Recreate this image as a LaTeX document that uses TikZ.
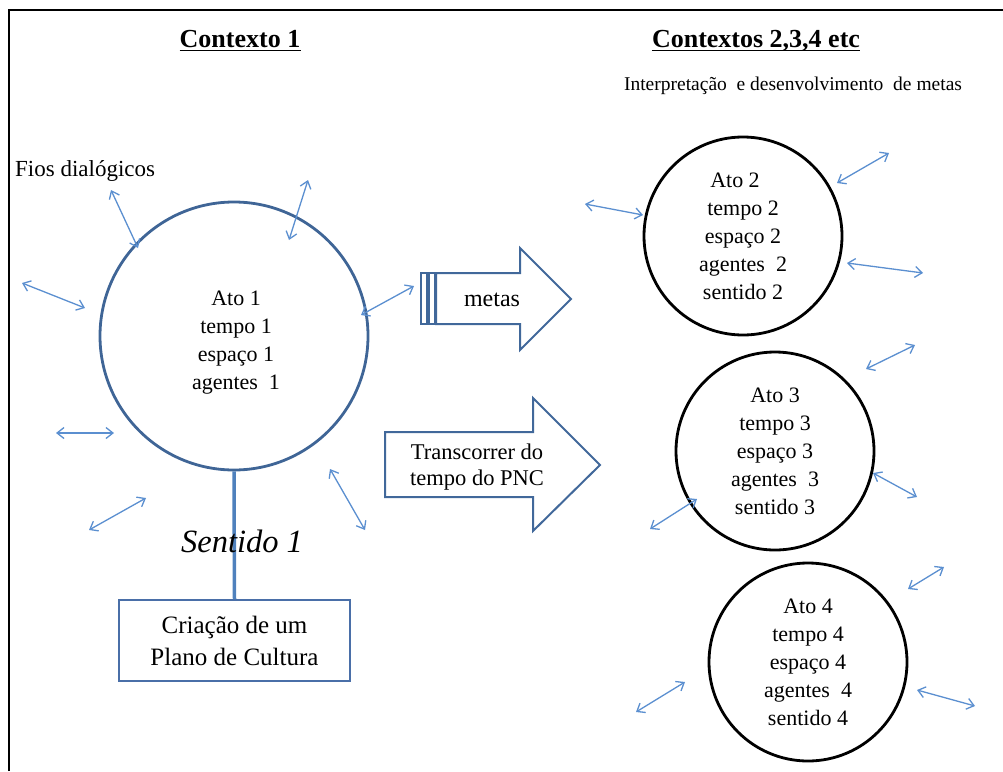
\documentclass[tikz,border=0pt]{standalone}
\usepackage{fontspec}
\setmainfont{Liberation Serif}
\usetikzlibrary{arrows.meta}
\definecolor{circblue}{HTML}{3F6596}
\definecolor{blockblue}{HTML}{41689A}
\definecolor{fioblue}{HTML}{5B8FD0}
\definecolor{stemblue}{HTML}{4F81BD}
\definecolor{boxblue}{HTML}{4A6FA8}
\tikzset{
  frameline/.style={draw=black, line width=2pt},
  titletext/.style={font=\bfseries\fontsize{26}{30}\selectfont, inner sep=0pt, anchor=base},
  ulin/.style={line width=1.8pt},
  mainctx/.style={circle, draw=circblue, line width=2.8pt, minimum size=268pt, inner sep=0pt},
  ctxtext/.style={align=center, inner sep=0pt, font=\fontsize{22}{28}\selectfont},
  ctxcirc/.style={circle, draw=black, line width=2.8pt, minimum size=198pt, inner sep=0pt,
     align=center, font=\fontsize{22}{28}\selectfont},
  fio/.style={draw=fioblue, line width=1.3pt,
     {Straight Barb[length=7pt,width=11pt]}-{Straight Barb[length=7pt,width=11pt]}},
  blockarrow/.style={draw=blockblue, line width=2pt, line join=miter},
  stem/.style={draw=stemblue, line width=3.5pt},
  planobox/.style={draw=boxblue, line width=2pt, minimum width=231pt, minimum height=81pt,
     align=center, font=\fontsize{25}{32}\selectfont},
  plain/.style={inner sep=0pt}
}
\begin{document}
\begin{tikzpicture}[x=1pt,y=-1pt]
\useasboundingbox (0,0) rectangle (1003,771);
% frame
\coordinate (fbl) at (9,771);
\coordinate (ftl) at (9,10);
\coordinate (ftr) at (1003,10);
\draw[frameline] (fbl) -- (ftl) -- (ftr);

% titles
\node[titletext] (t1) at (240,47) {Contexto 1};
\draw[ulin] ([yshift=-3.5pt]t1.base west) -- ([yshift=-3.5pt]t1.base east);
\node[titletext] (t2) at (756,47) {Contextos 2,3,4 etc};
\draw[ulin] ([yshift=-3.5pt]t2.base west) -- ([yshift=-3.5pt]t2.base east);
\node[plain, font=\fontsize{19.5}{22}\selectfont] (interp) at (793,86) {Interpretação~ e desenvolvimento~ de metas};

\node[plain, anchor=west, font=\fontsize{23}{26}\selectfont] (fios) at (15,171) {Fios dialógicos};

% main circle
\node[mainctx] (c1) at (234,336) {};
\node[ctxtext] (c1t) at (236,343) {Ato 1\\tempo 1\\espaço 1\\agentes~ 1};

% stem and box
\node[planobox] (plano) at (234.5,640.5) {Criação de um\\Plano de Cultura};
\draw[stem] (c1.south) -- (plano.north);
\node[plain, font=\itshape\fontsize{32.5}{38}\selectfont] (sent) at (242,541) {Sentido 1};

% right circles
\node[ctxcirc] (c2) at (743,236) {Ato 2\hspace*{16pt}\\tempo 2\\espaço 2\\agentes~ 2\\sentido 2};
\node[ctxcirc] (c3) at (775,451) {Ato 3\\tempo 3\\espaço 3\\agentes~ 3\\sentido 3};
\node[ctxcirc] (c4) at (808,662) {Ato 4\\tempo 4\\espaço 4\\agentes~ 4\\sentido 4};

% metas arrow
\draw[blockarrow] (436,273) -- (520,273) -- (520,248) -- (571,299) -- (520,350) -- (520,324) -- (436,324) -- cycle;
\draw[blockarrow] (421,273) rectangle (427,324);
\draw[blockarrow] (429,273) rectangle (435,324);
\node[plain, font=\fontsize{24}{28}\selectfont] (metas) at (492,300) {metas};

% transcorrer arrow
\draw[blockarrow] (385,432) -- (533,432) -- (533,398) -- (600,465) -- (533,531) -- (533,497) -- (385,497) -- cycle;
\node[plain, align=center, font=\fontsize{22.5}{26}\selectfont] (transc) at (477,467) {Transcorrer do\\tempo do PNC};

% fios dialogicos (small double arrows)
\foreach \n/\ax/\ay/\bx/\by in {
  a1/111/190/138/248, a2/22/283/85/308, a3/308/180/289/240, a4/361/315/414/286,
  a5/56/433/114/433, a6/89/530/146/498, a7/330/469/365/530,
  b1/585/204/643/215, b2/837/183/889/153, b3/847/263/923/273,
  c1/866/369/915/345, c2/873/473/917/497, c3/650/529/697/499,
  d1/908/589/944/567, d2/917/690/975/706, d3/636/712/685/682}
{
  \coordinate (\n s) at (\ax,\ay);
  \coordinate (\n e) at (\bx,\by);
  \draw[fio] (\n s) -- (\n e);
}
\end{tikzpicture}
\end{document}
